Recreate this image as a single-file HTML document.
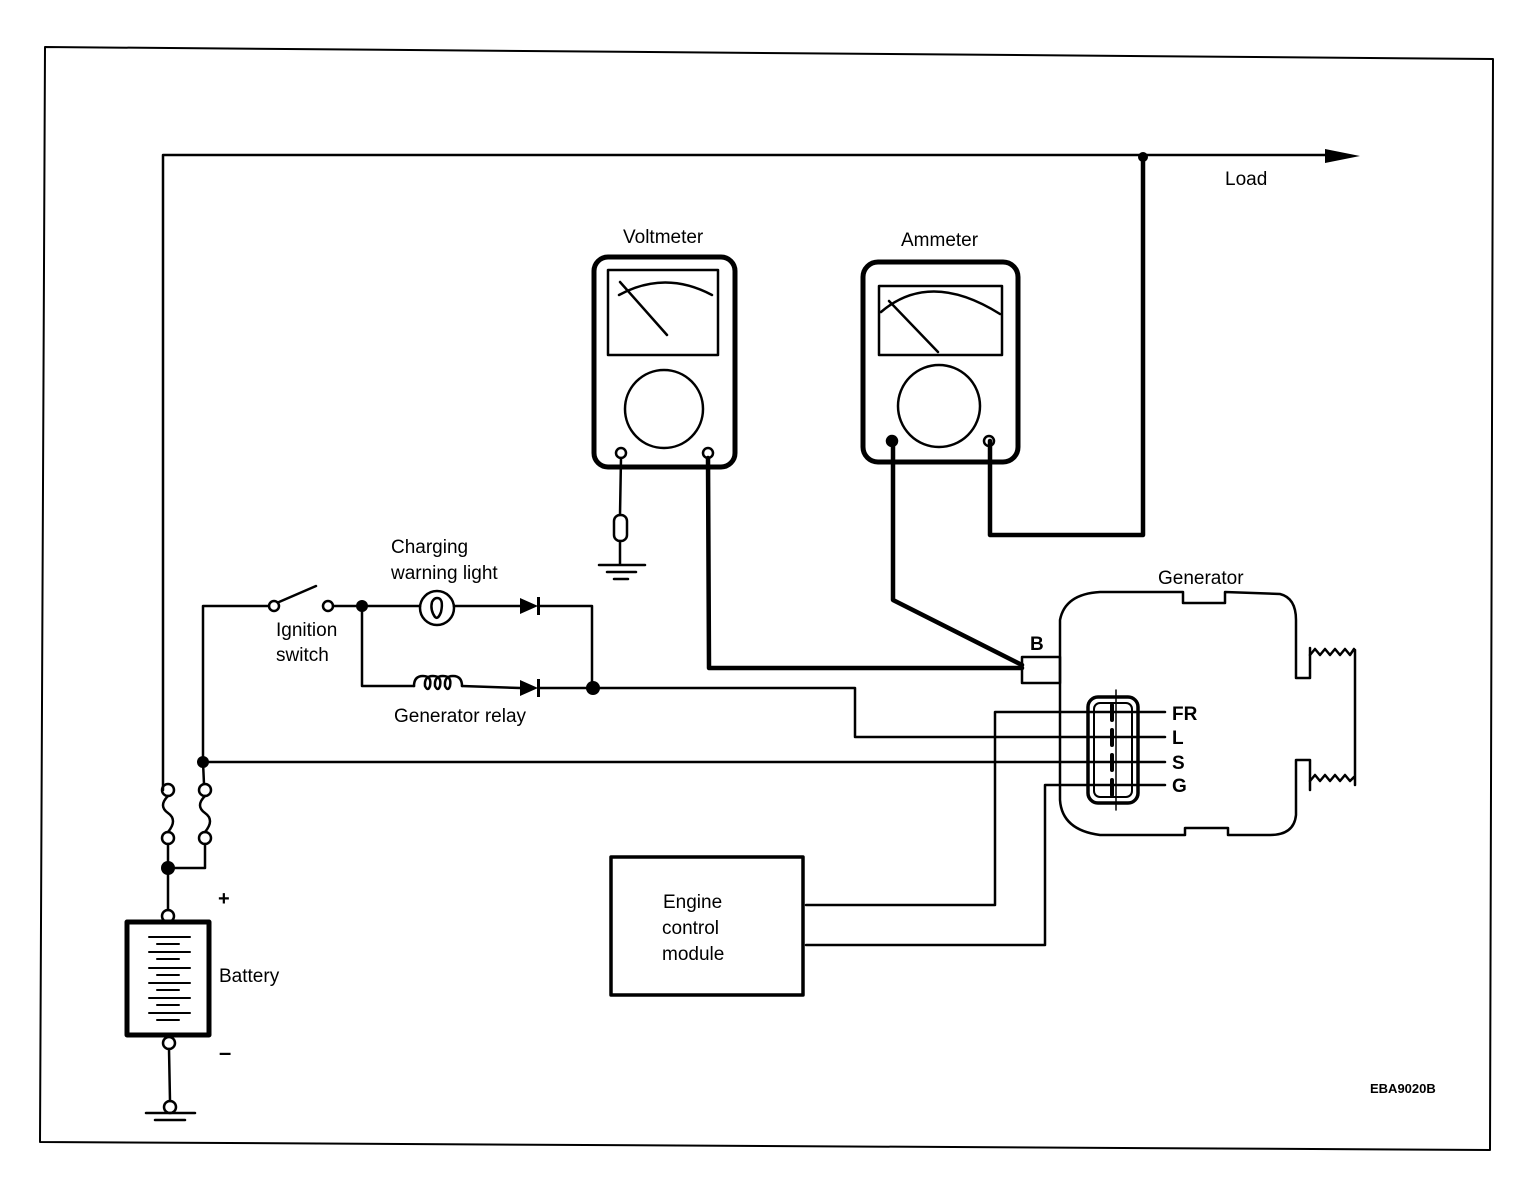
<!DOCTYPE html>
<html><head><meta charset="utf-8"><style>
html,body{margin:0;padding:0;background:#fff;width:1536px;height:1196px;overflow:hidden}
svg text{font-family:"Liberation Sans",sans-serif;font-size:19px;fill:#000}
</style></head><body>
<svg width="1536" height="1196" viewBox="0 0 1536 1196" xmlns="http://www.w3.org/2000/svg">
<g fill="none" stroke="#000" stroke-width="2.5" stroke-linecap="round" stroke-linejoin="round">
<path d="M45 47 L1493 59 L1490 1150 L40 1142 Z" stroke-width="2"/>
<path d="M163 790 L163 155 L1330 155"/>
<path d="M1143 157 L1143 535 L990 535 L990 441" stroke-width="4.5"/>
<!-- voltmeter -->
<rect x="594" y="257" width="141" height="210" rx="14" stroke-width="5"/>
<rect x="608" y="270" width="110" height="85" stroke-width="2.5"/>
<path d="M619 295 Q665 270 712 295"/>
<path d="M620 282 L667 335"/>
<circle cx="664" cy="409" r="39"/>
<circle cx="621" cy="453" r="5"/>
<circle cx="708" cy="453" r="5"/>
<path d="M621 458 L620 515"/>
<rect x="614" y="515" width="13" height="26" rx="6"/>
<path d="M620 541 L620 565 M599 565 L645 565 M607 572 L636 572 M614 579 L628 579"/>
<path d="M708 458 L709 668 L1022 668" stroke-width="4.5"/>
<!-- ammeter -->
<rect x="863" y="262" width="155" height="200" rx="15" stroke-width="5"/>
<rect x="879" y="286" width="123" height="69" stroke-width="2.5"/>
<path d="M881 312 Q930 270 1000 314"/>
<path d="M889 301 L938 352"/>
<circle cx="939" cy="406" r="41"/>
<circle cx="892" cy="441" r="5" fill="#000"/>
<circle cx="989" cy="441" r="5"/>
<path d="M893 446 L893 600 L1022 665" stroke-width="4.5"/>
<rect x="1022" y="657" width="38" height="26"/>
<!-- generator body -->
<path d="M1310 648 L1310 678 L1296 678 L1296 620 Q1296 598 1280 594 L1225 592 L1225 603 L1183 603 L1183 592 L1100 592 Q1065 594 1060 620 L1060 800 Q1062 830 1100 835 L1185 835 L1185 828 L1228 828 L1228 835 L1270 835 Q1294 835 1296 815 L1296 760 L1310 760 L1310 790"/>
<path d="M1310 655 l5 -6 l5 6 l5 -6 l5 6 l5 -6 l5 6 l5 -6 l5 6 l4 -6 M1355 650 L1355 785 M1310 781 l5 -6 l5 6 l5 -6 l5 6 l5 -6 l5 6 l5 -6 l5 6 l4 -4"/>
<!-- connector -->
<rect x="1088" y="697" width="50" height="106" rx="10" stroke-width="3.5"/>
<rect x="1094" y="703" width="38" height="94" rx="6" stroke-width="2"/>
<path d="M1116 690 L1116 810" stroke-width="1.5"/>
<path d="M1112 705 L1112 720 M1112 730 L1112 745 M1112 755 L1112 770 M1112 780 L1112 795" stroke-width="4"/>
<path d="M806 905 L995 905 L995 712 L1165 712"/>
<path d="M593 688 L855 688 L855 737 L1165 737"/>
<path d="M203 762 L1165 762"/>
<path d="M806 945 L1045 945 L1045 785 L1165 785"/>
<rect x="611" y="857" width="192" height="138" stroke-width="3.5"/>
<!-- ignition -->
<path d="M203 762 L203 606 L269 606"/>
<circle cx="274" cy="606" r="5"/>
<path d="M279 602 L316 586"/>
<circle cx="328" cy="606" r="5"/>
<path d="M333 606 L420 606"/>
<circle cx="437" cy="608" r="17"/>
<path d="M437 598 Q444 598 441 612 Q438 620 435 617 Q430 610 432 602 Q434 598 437 598"/>
<path d="M454 606 L520 606 M538 606 L592 606 L592 688"/>
<path d="M362 606 L362 686 L414 686"/>
<path d="M414 686 Q414 676 423 676 Q432 676 430 686 Q428 692 425 686 Q424 676 433 676 Q442 676 440 686 Q438 692 435 686 Q434 676 443 676 Q452 676 450 686 Q448 692 445 686 Q444 676 453 676 Q462 676 462 686"/>
<path d="M462 686 L520 688 M538 688 L593 688"/>
<!-- fuses -->
<circle cx="168" cy="790" r="6"/>
<path d="M168 796 Q158 806 168 813 Q178 820 168 832"/>
<circle cx="168" cy="838" r="6"/>
<path d="M168 844 L168 910"/>
<circle cx="205" cy="790" r="6"/>
<path d="M203 762 L204 784 M205 796 Q195 806 205 813 Q215 820 205 832"/>
<circle cx="205" cy="838" r="6"/>
<path d="M205 844 L205 868 L168 868"/>
<circle cx="168" cy="916" r="6"/>
<rect x="127" y="922" width="82" height="113" stroke-width="5"/>
<path d="M149 937 L190 937 M157 944 L179 944 M149 952 L190 952 M157 959 L179 959 M149 968 L190 968 M157 975 L179 975 M149 983 L190 983 M157 990 L179 990 M149 998 L190 998 M157 1005 L179 1005 M149 1013 L190 1013 M157 1020 L179 1020" stroke-width="2"/>
<circle cx="169" cy="1043" r="6"/>
<path d="M169 1049 L170 1101"/>
<circle cx="170" cy="1107" r="6"/>
<path d="M146 1113 L195 1113 M155 1120 L185 1120"/>
</g>
<g fill="#000">
<polygon points="1325,149 1360,156 1325,163"/>
<circle cx="1143" cy="157" r="5"/>
<circle cx="362" cy="606" r="6"/>
<circle cx="593" cy="688" r="7"/>
<circle cx="203" cy="762" r="6"/>
<circle cx="168" cy="868" r="7"/>
<polygon points="520,598 538,606 520,614"/>
<rect x="537" y="597" width="3" height="18"/>
<polygon points="520,680 538,688 520,696"/>
<rect x="537" y="679" width="3" height="18"/>
</g>
<text x="623" y="243">Voltmeter</text>
<text x="901" y="246">Ammeter</text>
<text x="1225" y="185">Load</text>
<text x="1158" y="584">Generator</text>
<text x="391" y="553">Charging</text>
<text x="391" y="579">warning light</text>
<text x="276" y="636">Ignition</text>
<text x="276" y="661">switch</text>
<text x="394" y="722">Generator relay</text>
<text x="1030" y="650" style="font-weight:bold">B</text>
<text x="1172" y="720" style="font-weight:bold">FR</text>
<text x="1172" y="744" style="font-weight:bold">L</text>
<text x="1172" y="769" style="font-weight:bold">S</text>
<text x="1172" y="792" style="font-weight:bold">G</text>
<text x="663" y="908">Engine</text>
<text x="662" y="934">control</text>
<text x="662" y="960">module</text>
<text x="219" y="982">Battery</text>
<text x="218" y="905" style="font-weight:bold;font-size:20px">+</text>
<text x="219" y="1060" style="font-weight:bold;font-size:22px">–</text>
<text x="1370" y="1093" style="font-size:13px;font-weight:bold">EBA9020B</text>
</svg>
</body></html>
